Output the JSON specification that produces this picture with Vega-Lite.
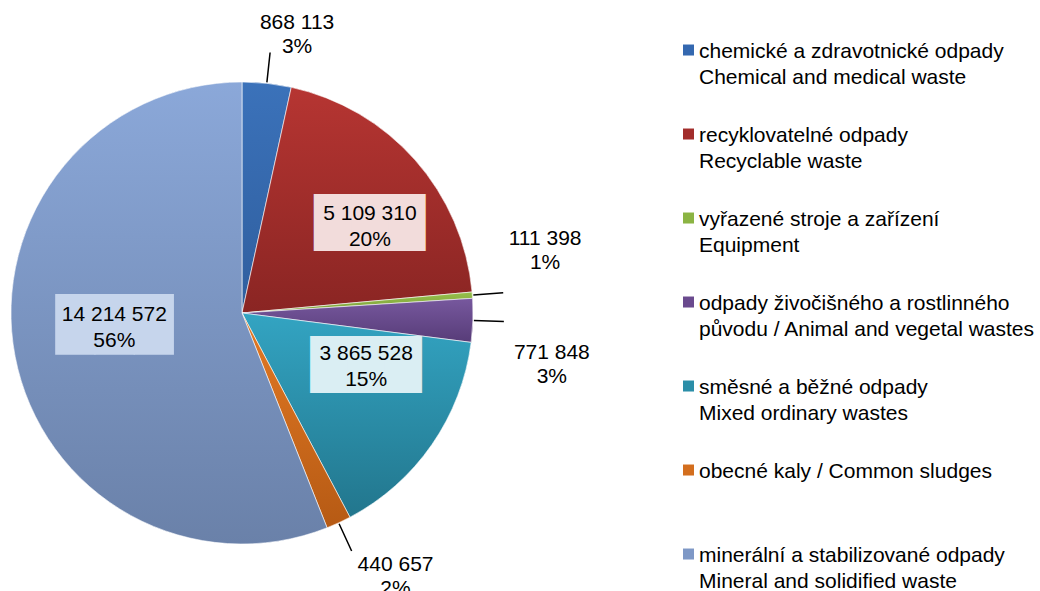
{
  "$schema": "https://vega.github.io/schema/vega-lite/v6.json",
  "width": 484,
  "height": 626,
  "autosize": {"type": "none"},
  "padding": {"left": 0, "top": 0, "right": 556, "bottom": 0},
  "background": "white",
  "data": {
    "values": [
      {"order": 1, "category": "chemické a zdravotnické odpady|Chemical and medical waste", "value": 868113, "label": "868 113\n3%"},
      {"order": 2, "category": "recyklovatelné odpady|Recyclable waste", "value": 5109310, "label": "5 109 310\n20%"},
      {"order": 3, "category": "vyřazené stroje a zařízení|Equipment", "value": 111398, "label": "111 398\n1%"},
      {"order": 4, "category": "odpady živočišného a rostlinného|původu / Animal and vegetal wastes", "value": 771848, "label": "771 848\n3%"},
      {"order": 5, "category": "směsné a běžné odpady|Mixed ordinary wastes", "value": 3865528, "label": "3 865 528\n15%"},
      {"order": 6, "category": "obecné kaly / Common sludges| ", "value": 440657, "label": "440 657\n2%"},
      {"order": 7, "category": "minerální a stabilizované odpady|Mineral and solidified waste", "value": 14214572, "label": "14 214 572\n56%"}
    ]
  },
  "encoding": {
    "theta": {"field": "value", "type": "quantitative", "stack": true},
    "order": {"field": "order", "type": "quantitative", "sort": "ascending"}
  },
  "layer": [
    {
      "mark": {"type": "arc", "outerRadius": 231, "stroke": "#ffffff", "strokeWidth": 0.6},
      "encoding": {
        "color": {
          "field": "category",
          "type": "nominal",
          "sort": null,
          "scale": {
            "domain": [
              "chemické a zdravotnické odpady|Chemical and medical waste",
              "recyklovatelné odpady|Recyclable waste",
              "vyřazené stroje a zařízení|Equipment",
              "odpady živočišného a rostlinného|původu / Animal and vegetal wastes",
              "směsné a běžné odpady|Mixed ordinary wastes",
              "obecné kaly / Common sludges| ",
              "minerální a stabilizované odpady|Mineral and solidified waste"
            ],
            "range": ["#3468B0", "#A22D2B", "#8BB443", "#6A4A8E", "#2B8EA8", "#D36E1E", "#7E98C6"]
          },
          "legend": {
            "title": null,
            "orient": "none",
            "legendX": 678,
            "legendY": 30,
            "symbolType": "M-1,0.73H1V2.73H-1Z",
            "symbolSize": 121,
            "symbolStrokeWidth": 0,
            "labelFont": "Liberation Sans",
            "labelFontSize": 21,
            "labelColor": "#000000",
            "labelLimit": 500,
            "labelBaseline": "top",
            "labelOffset": 0,
            "rowPadding": 26,
            "labelExpr": "split(datum.label, '|')"
          }
        }
      }
    },
    {
      "mark": {"type": "arc", "outerRadius": 231, "stroke": "#ffffff", "strokeWidth": 0.6},
      "encoding": {
        "fill": {
          "condition": [
            {"test": "datum.order === 1", "value": {"gradient": "linear", "x1": 0, "y1": 0, "x2": 0, "y2": 1, "stops": [{"offset": 0, "color": "#3B72BA"}, {"offset": 1, "color": "#2F5E9E"}]}},
            {"test": "datum.order === 2", "value": {"gradient": "linear", "x1": 0, "y1": 0, "x2": 0, "y2": 1, "stops": [{"offset": 0, "color": "#B63532"}, {"offset": 1, "color": "#8A2523"}]}},
            {"test": "datum.order === 3", "value": {"gradient": "linear", "x1": 0, "y1": 0, "x2": 0, "y2": 1, "stops": [{"offset": 0, "color": "#96BF4B"}, {"offset": 1, "color": "#7CA03A"}]}},
            {"test": "datum.order === 4", "value": {"gradient": "linear", "x1": 0, "y1": 0, "x2": 0, "y2": 1, "stops": [{"offset": 0, "color": "#77589E"}, {"offset": 1, "color": "#573C78"}]}},
            {"test": "datum.order === 5", "value": {"gradient": "linear", "x1": 0, "y1": 0, "x2": 0, "y2": 1, "stops": [{"offset": 0, "color": "#33A4C2"}, {"offset": 1, "color": "#22768D"}]}},
            {"test": "datum.order === 6", "value": {"gradient": "linear", "x1": 0, "y1": 0, "x2": 0, "y2": 1, "stops": [{"offset": 0, "color": "#E37A24"}, {"offset": 1, "color": "#B65A14"}]}},
            {"test": "datum.order === 7", "value": {"gradient": "linear", "x1": 0, "y1": 0, "x2": 0, "y2": 1, "stops": [{"offset": 0, "color": "#8BA8D9"}, {"offset": 1, "color": "#6A81A9"}]}}
          ],
          "value": "#888888"
        }
      }
    },
    {
      "mark": {"type": "arc", "outerRadius": 262, "innerRadius": 232, "padAngle": 0.6, "fill": null, "stroke": "#000000", "strokeWidth": 1.5},
      "encoding": {
        "strokeOpacity": {"condition": {"test": "datum.value > 1000000", "value": 0}, "value": 1}
      }
    },
    {
      "mark": {"type": "text", "radius": 156, "dx": 11, "dy": 15.5, "font": "DejaVu Sans", "fontSize": 48, "color": "#F2DCDB"},
      "encoding": {"text": {"condition": {"test": "datum.order === 2", "value": "███"}, "value": ""}}
    },
    {
      "mark": {"type": "text", "radius": 145, "dx": 5, "dy": -28.5, "font": "DejaVu Sans", "fontSize": 48, "color": "#DAEEF3"},
      "encoding": {"text": {"condition": {"test": "datum.order === 5", "value": "███"}, "value": ""}}
    },
    {
      "mark": {"type": "text", "radius": 130, "dx": 0, "dy": -10, "font": "DejaVu Sans", "fontSize": 51, "color": "#C6D5EC"},
      "encoding": {"text": {"condition": {"test": "datum.order === 7", "value": "███"}, "value": ""}}
    },
    {
      "mark": {"type": "text", "radius": 156, "dx": 11, "dy": 4, "font": "Liberation Sans", "fontSize": 21, "lineBreak": "\n", "lineHeight": 26, "color": "#000000"},
      "encoding": {"text": {"condition": {"test": "datum.order === 2", "field": "label"}, "value": ""}}
    },
    {
      "mark": {"type": "text", "radius": 145, "dx": 5, "dy": -42, "font": "Liberation Sans", "fontSize": 21, "lineBreak": "\n", "lineHeight": 26, "color": "#000000"},
      "encoding": {"text": {"condition": {"test": "datum.order === 5", "field": "label"}, "value": ""}}
    },
    {
      "mark": {"type": "text", "radius": 130, "dx": 0, "dy": -22, "font": "Liberation Sans", "fontSize": 21, "lineBreak": "\n", "lineHeight": 26, "color": "#000000"},
      "encoding": {"text": {"condition": {"test": "datum.order === 7", "field": "label"}, "value": ""}}
    },
    {
      "mark": {"type": "text", "radius": 290, "dx": 24, "dy": -2, "font": "Liberation Sans", "fontSize": 21, "lineBreak": "\n", "lineHeight": 24, "color": "#000000"},
      "encoding": {"text": {"condition": {"test": "datum.order === 1", "field": "label"}, "value": ""}}
    },
    {
      "mark": {"type": "text", "radius": 300, "dx": 4, "dy": -51, "font": "Liberation Sans", "fontSize": 21, "lineBreak": "\n", "lineHeight": 24, "color": "#000000"},
      "encoding": {"text": {"condition": {"test": "datum.order === 3", "field": "label"}, "value": ""}}
    },
    {
      "mark": {"type": "text", "radius": 300, "dx": 10, "dy": 30, "font": "Liberation Sans", "fontSize": 21, "lineBreak": "\n", "lineHeight": 24, "color": "#000000"},
      "encoding": {"text": {"condition": {"test": "datum.order === 4", "field": "label"}, "value": ""}}
    },
    {
      "mark": {"type": "text", "radius": 300, "dx": 28, "dy": -20, "font": "Liberation Sans", "fontSize": 21, "lineBreak": "\n", "lineHeight": 24, "color": "#000000"},
      "encoding": {"text": {"condition": {"test": "datum.order === 6", "field": "label"}, "value": ""}}
    }
  ],
  "config": {
    "view": {"stroke": null},
    "style": {"guide-label": {"lineHeight": 26}}
  }
}
